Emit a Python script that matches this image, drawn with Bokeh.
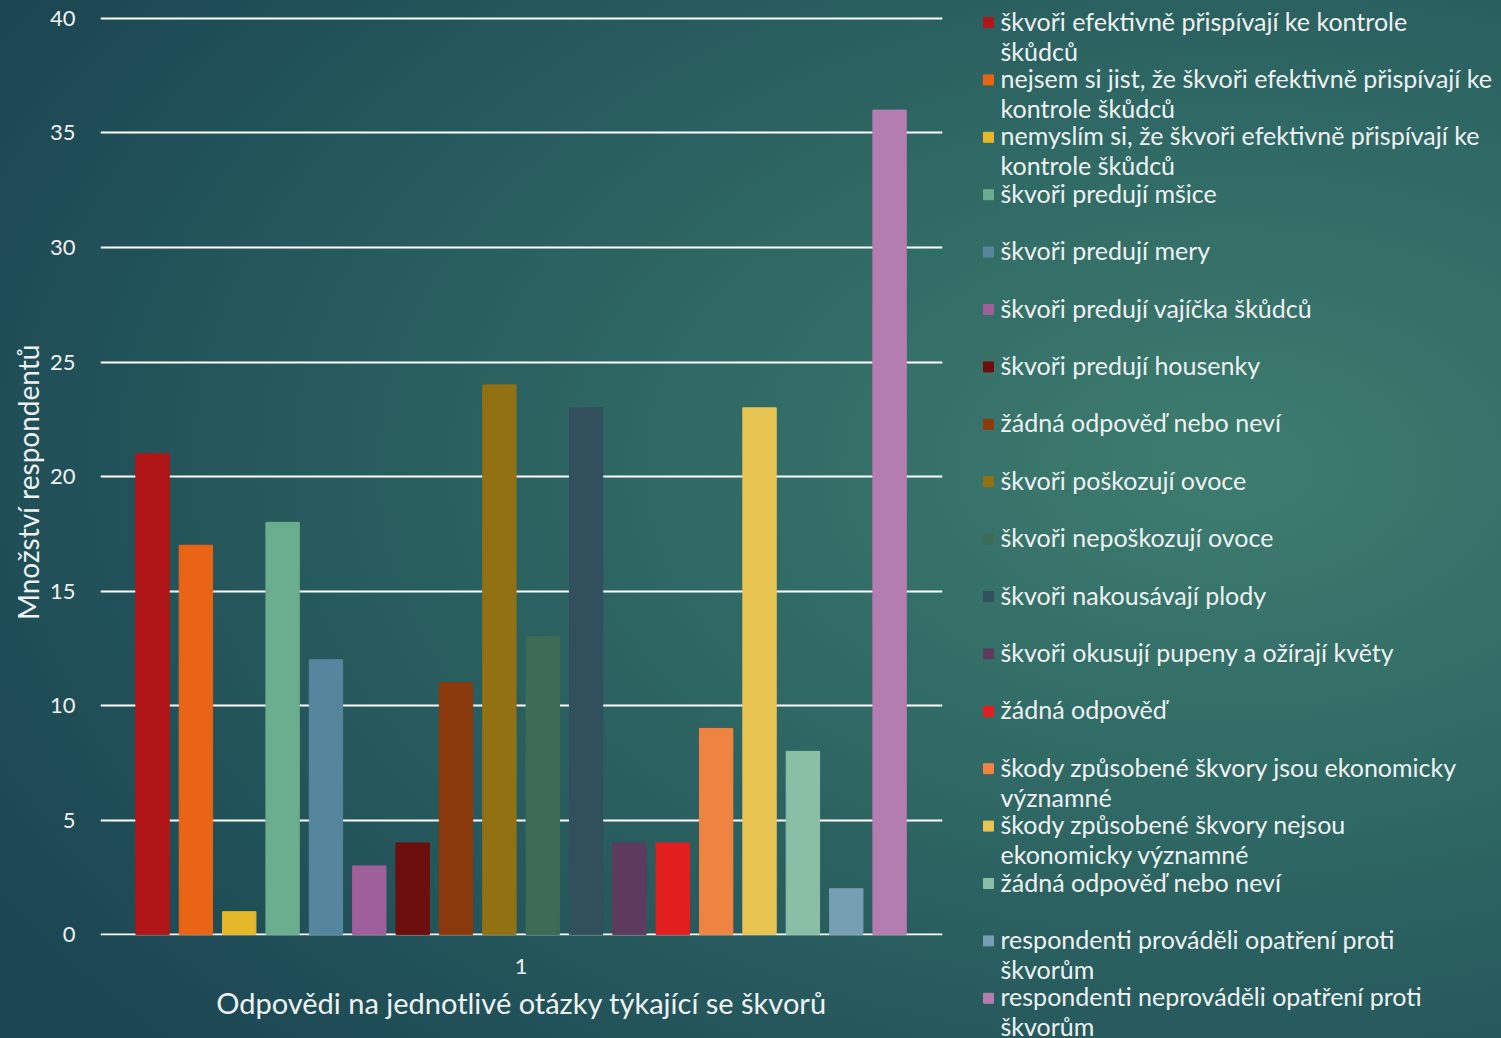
from bokeh.plotting import figure
from bokeh.layouts import row
from bokeh.models import FixedTicker, ColumnDataSource, Range1d
from bokeh.embed import file_html
from bokeh.resources import INLINE
from bokeh.core.properties import value

# ---- data ----
labels = [
    "škvoři efektivně přispívají ke kontrole\nškůdců",
    "nejsem si jist, že škvoři efektivně přispívají ke\nkontrole škůdců",
    "nemyslím si, že škvoři efektivně přispívají ke\nkontrole škůdců",
    "škvoři predují mšice",
    "škvoři predují mery",
    "škvoři predují vajíčka škůdců",
    "škvoři predují housenky",
    "žádná odpověď nebo neví",
    "škvoři poškozují ovoce",
    "škvoři nepoškozují ovoce",
    "škvoři nakousávají plody",
    "škvoři okusují pupeny a ožírají květy",
    "žádná odpověď",
    "škody způsobené škvory jsou ekonomicky\nvýznamné",
    "škody způsobené škvory nejsou\nekonomicky významné",
    "žádná odpověď nebo neví",
    "respondenti prováděli opatření proti\nškvorům",
    "respondenti neprováděli opatření proti\nškvorům",
]
counts = [21, 17, 1, 18, 12, 3, 4, 11, 24, 13, 23, 4, 4, 9, 23, 8, 2, 36]
colors = ["#b01517", "#e96414", "#e5b72a", "#6aad8f", "#56869d", "#9e5f9b",
          "#6b0e0c", "#8a3a0c", "#927113", "#3d6b56", "#324f5c", "#5e3b5e",
          "#e31e1f", "#ef8442", "#e8c453", "#8abfa5", "#779fb3", "#b37db0"]
category_label = "1"
y_ticks = [0, 5, 10, 15, 20, 25, 30, 35, 40]
y_title = "Množství respondentů"
x_title = "Odpovědi na jednotlivé otázky týkající se škvorů"

FONT = "Lato"
TXT = "#eef2f2"

n = len(counts)
xs = list(range(n))
src = ColumnDataSource(dict(x=xs, top=counts, color=colors))

# frame spans page rows 0..935; value 40 sits at row 18
p = figure(width=965, height=1038, output_backend="svg", toolbar_location=None,
           x_range=Range1d(-1.2, n - 1 + 1.22), y_range=Range1d(-0.04, 40.785),
           min_border_left=100, min_border_right=23, min_border_top=0,
           min_border_bottom=103)
p.background_fill_alpha = 0
p.border_fill_alpha = 0
p.outline_line_color = None

p.vbar(x="x", top="top", width=0.77, color="color", source=src)

p.xgrid.grid_line_color = None
p.ygrid.grid_line_color = "#ffffff"
p.ygrid.grid_line_width = 2
p.ygrid.ticker = FixedTicker(ticks=y_ticks)

p.yaxis.ticker = FixedTicker(ticks=y_ticks)
p.yaxis.axis_line_color = None
p.yaxis.major_tick_line_color = None
p.yaxis.minor_tick_line_color = None
p.yaxis.major_label_standoff = 19
p.yaxis.major_label_text_font = FONT
p.yaxis.major_label_text_font_size = "22px"
p.yaxis.major_label_text_color = TXT
# trailing no-break spaces shift the centred title down to the plotted span (0..40)
p.yaxis.axis_label = y_title + "\u00a0" * 4
p.yaxis.axis_label_text_font = FONT
p.yaxis.axis_label_text_font_style = "normal"
p.yaxis.axis_label_text_font_size = "28px"
p.yaxis.axis_label_text_color = TXT
p.yaxis.axis_label_standoff = 2

center = (n - 1) / 2
p.xaxis.ticker = FixedTicker(ticks=[center])
p.xaxis.major_label_overrides = {center: category_label}
p.xaxis.axis_line_color = None
p.xaxis.major_tick_line_color = None
p.xaxis.minor_tick_line_color = None
p.xaxis.major_label_standoff = 17
p.xaxis.major_label_text_font = FONT
p.xaxis.major_label_text_font_size = "22px"
p.xaxis.major_label_text_color = TXT
p.xaxis.axis_label = x_title
p.xaxis.axis_label_text_font = FONT
p.xaxis.axis_label_text_font_style = "normal"
p.xaxis.axis_label_text_font_size = "29px"
p.xaxis.axis_label_text_color = TXT
p.xaxis.axis_label_standoff = 8

# ---- legend figure ----
LW = 1501 - 965
leg = figure(width=LW, height=1038, output_backend="svg", toolbar_location=None,
             x_range=Range1d(0, LW), y_range=Range1d(1038, 0),
             min_border=0)
leg.frame_width = LW
leg.frame_height = 1038
leg.background_fill_alpha = 0
leg.border_fill_alpha = 0
leg.outline_line_color = None
leg.axis.visible = False
leg.grid.visible = False

step = 57.4
ys = [22 + i * step for i in range(n)]
lsrc = ColumnDataSource(dict(x=[23] * n, tx=[35] * n, y=ys, label=labels, color=colors))
leg.scatter(x="x", y="y", size=10, marker="square", color="color", source=lsrc)
leg.text(x="tx", y="y", text="label", source=lsrc, text_font=value(FONT),
         text_font_size="25px", text_color=TXT, text_baseline="top",
         text_line_height=1.0, y_offset=-17)

layout = row(p, leg, styles={
    "background": "radial-gradient(ellipse 95% 85% at 82% 45%, #3e7c6f 0%, #2f6864 40%, #1b4653 100%)"
})
layout.width = 1501
layout.height = 1038

open("out.html", "w").write(file_html(layout, INLINE))
